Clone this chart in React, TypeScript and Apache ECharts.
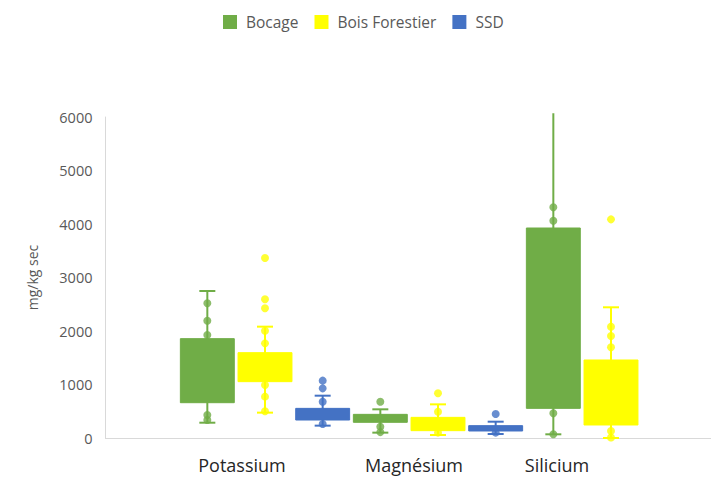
import React, { useEffect, useRef } from "react";
import * as echarts from "echarts";

const categories = ["Potassium", "Magnésium", "Silicium"];
const groups = ["Bocage", "Bois Forestier", "SSD"];
const yTicks = [0, 1000, 2000, 3000, 4000, 5000, 6000];

// [min, q1, q3, max] per category
const bocageBoxes = [
  [286, 660, 1857, 2748],
  [100, 293, 442, 536],
  [69, 554, 3925, 6070],
];
const boisBoxes = [
  [474, 1053, 1595, 2081],
  [56, 137, 386, 629],
  [0, 243, 1458, 2443],
];
const ssdBoxes: (number[] | null)[] = [
  [231, 336, 554, 791],
  [75, 131, 231, 305],
  null,
];

// individual points per category
const bocagePoints = [
  [2518, 2193, 1925, 430, 336],
  [679, 212, 110],
  [4312, 4062, 461, 69],
];
const boisPoints = [
  [3364, 2592, 2424, 2006, 1769, 990, 773, 500],
  [835, 492, 100],
  [4087, 2081, 1907, 1695, 131, 10],
];
const ssdPoints = [
  [1072, 928, 679, 262],
  [449, 100],
  [],
];

const colors = ["#70AD47", "#FFFF00", "#4472C4"];

export default function App() {
  const ref = useRef<HTMLDivElement>(null);
  useEffect(() => {
    if (!ref.current) return;
    const chart = echarts.init(ref.current, null, { renderer: "svg" });
    const allBoxes = [bocageBoxes, boisBoxes, ssdBoxes];
    const allPoints = [bocagePoints, boisPoints, ssdPoints];
    const slots: string[] = [];
    categories.forEach((c) => groups.forEach((g) => slots.push(c + " - " + g)));
    const yMax = yTicks[yTicks.length - 1];

    const series: any[] = [];
    groups.forEach((g, gi) => {
      const color = colors[gi];
      const boxData: number[][] = [];
      allBoxes[gi].forEach((b, ci) => {
        if (b) boxData.push([ci * groups.length + gi, ...b]);
      });
      series.push({
        type: "custom",
        name: g,
        xAxisIndex: 0,
        itemStyle: { color },
        encode: { x: 0, y: [1, 2, 3, 4] },
        data: boxData,
        z: 2,
        renderItem: (params: any, api: any) => {
          const x = api.value(0);
          const vMin = api.value(1);
          const vQ1 = api.value(2);
          const vQ3 = api.value(3);
          const vMax = api.value(4);
          const lo = api.coord([x, vMin]);
          const q1 = api.coord([x, vQ1]);
          const q3 = api.coord([x, vQ3]);
          const hi = api.coord([x, vMax]);
          const band = api.size([1, 0])[0];
          const bw = band * 0.935;
          const cx = lo[0];
          const capW = 16;
          const children: any[] = [
            {
              type: "line",
              shape: { x1: cx, y1: hi[1], x2: cx, y2: lo[1] },
              style: { stroke: color, lineWidth: 2 },
            },
            {
              type: "rect",
              shape: { x: cx - bw / 2, y: q3[1], width: bw, height: q1[1] - q3[1] },
              style: { fill: color, stroke: color, lineWidth: 1 },
            },
            {
              type: "line",
              shape: { x1: cx - capW / 2, y1: lo[1], x2: cx + capW / 2, y2: lo[1] },
              style: { stroke: color, lineWidth: 2 },
            },
          ];
          if (vMax <= yMax) {
            children.push({
              type: "line",
              shape: { x1: cx - capW / 2, y1: hi[1], x2: cx + capW / 2, y2: hi[1] },
              style: { stroke: color, lineWidth: 2 },
            });
          }
          return { type: "group", children };
        },
      });
      const ptData: number[][] = [];
      allPoints[gi].forEach((arr, ci) => {
        arr.forEach((v) => ptData.push([ci * groups.length + gi, v]));
      });
      series.push({
        type: "scatter",
        name: g,
        xAxisIndex: 0,
        symbol: "circle",
        symbolSize: 8,
        itemStyle: { color },
        data: ptData,
        z: 3,
      });
    });

    const labelShift = [46, 48, 108];
    const rich: any = {};
    categories.forEach((_, i) => {
      rich["p" + i] = {
        fontSize: 18,
        color: "#262626",
        fontFamily: "Open Sans",
        padding: [0, labelShift[i], 0, 0],
      };
    });

    chart.setOption({
      animation: false,
      textStyle: { fontFamily: "Open Sans" },
      legend: {
        data: groups,
        icon: "rect",
        itemWidth: 14,
        itemHeight: 14,
        itemGap: 16,
        left: 218,
        top: 9,
        formatter: (name: string) => "{t|" + name + "}",
        textStyle: {
          fontSize: 15.5,
          color: "#595959",
          fontFamily: "Open Sans",
          rich: {
            t: {
              fontSize: 15.5,
              color: "#595959",
              fontFamily: "Open Sans",
              padding: [0, 0, 0, 4],
            },
          },
        },
      },
      grid: { left: 178.5, right: 13.5, top: 117, bottom: 42 },
      xAxis: [
        {
          type: "category",
          data: slots,
          boundaryGap: true,
          axisLine: { show: false },
          axisTick: { show: false },
          axisLabel: { show: false },
          splitLine: { show: false },
        },
        {
          type: "category",
          data: categories,
          position: "bottom",
          boundaryGap: true,
          axisLine: { show: false },
          axisTick: { show: false },
          splitLine: { show: false },
          axisLabel: {
            margin: 18,
            formatter: (v: string, i: number) => "{p" + i + "|" + v + "}",
            rich,
          },
        },
      ],
      yAxis: {
        type: "value",
        min: 0,
        max: yMax,
        interval: 1000,
        offset: 73,
        name: "mg/kg sec",
        nameLocation: "middle",
        nameGap: 66,
        nameTextStyle: { fontSize: 14, color: "#595959", fontFamily: "Open Sans" },
        axisLine: { show: true, lineStyle: { color: "#d9d9d9", width: 1 } },
        axisTick: { show: false },
        splitLine: { show: false },
        axisLabel: {
          fontSize: 14.5,
          color: "#595959",
          margin: 13,
          fontFamily: "Open Sans",
          formatter: (v: number) => String(v),
        },
      },
      graphic: [
        {
          type: "line",
          z: 1,
          shape: { x1: 105, y1: 438.5, x2: 711, y2: 438.5 },
          style: { stroke: "#d9d9d9", lineWidth: 1 },
        },
      ],
      series,
    });
    return () => chart.dispose();
  }, []);
  return (
    <div
      ref={ref}
      style={{ position: "absolute", left: 0, top: 0, width: 711, height: 480 }}
    />
  );
}
